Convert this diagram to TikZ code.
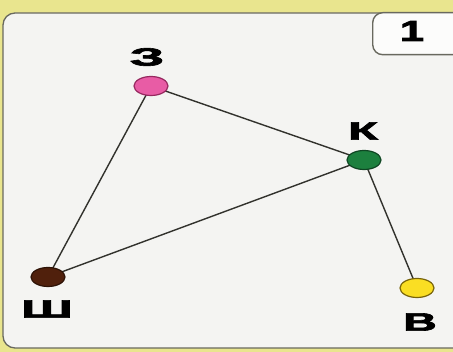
\documentclass[tikz,border=0pt]{standalone}
\usepackage{fontspec}
\setmainfont{Liberation Sans}
\newfontfamily\heavyfont{Liberation Sans}[BoldFeatures={FakeBold=2.4}]
\usetikzlibrary{shapes.geometric}
\definecolor{bgyellow}{RGB}{233,229,142}
\definecolor{cardfill}{RGB}{244,244,242}
\definecolor{cardline}{RGB}{105,105,95}
\definecolor{edgecol}{RGB}{50,50,45}
\definecolor{pinkf}{RGB}{232,92,165}
\definecolor{pinkd}{RGB}{150,40,95}
\definecolor{greenf}{RGB}{28,128,62}
\definecolor{greend}{RGB}{15,70,35}
\definecolor{brownf}{RGB}{80,32,12}
\definecolor{brownd}{RGB}{45,18,6}
\definecolor{yellowf}{RGB}{250,222,35}
\definecolor{yellowd}{RGB}{120,100,10}
\newcommand\wide[2]{\scalebox{#1}[1]{#2}}
\tikzset{
  vert/.style={ellipse, minimum width=34pt, minimum height=19pt, inner sep=0pt, line width=1.2pt},
  lbl/.style={font=\heavyfont\bfseries\fontsize{25}{25}\selectfont, inner sep=0pt, text=black},
  edge/.style={draw=edgecol, line width=1.4pt},
}
\begin{document}
\begin{tikzpicture}[x=1pt,y=-1pt]
\useasboundingbox (0,0) rectangle (453,352);
\fill[bgyellow] (0,0) rectangle (453,352);
\draw[cardline, fill=cardfill, line width=1.3pt, rounded corners=12pt] (3,13) rectangle (480,348);
\node[draw=cardline, fill=white!70!cardfill, line width=1.4pt, rounded corners=10pt, minimum width=110pt, minimum height=42pt, anchor=north west, inner sep=0pt] (box) at (372,12) {};
\node[lbl, font=\heavyfont\bfseries\fontsize{29}{29}\selectfont] (one) at (412,31) {\wide{1.5}{1}};

\node[lbl] (lz) at (147,57) {\wide{2.2}{З}};
\node[lbl] (lk) at (363,131) {\wide{1.95}{К}};
\node[lbl] (lsh) at (47,309) {\wide{2.05}{Ш}};
\node[lbl] (lv) at (420,322) {\wide{1.85}{В}};

\coordinate (z) at (151,86);
\coordinate (k) at (364,160);
\coordinate (sh) at (48,277);
\coordinate (v) at (417,288);

\draw[edge] (z) -- (sh);
\draw[edge] (z) -- (k);
\draw[edge] (k) -- (sh);
\draw[edge] (k) -- (v);

\node[vert, draw=pinkd, fill=pinkf] (nz) at (z) {};
\node[vert, draw=greend, fill=greenf] (nk) at (k) {};
\node[vert, draw=brownd, fill=brownf] (nsh) at (sh) {};
\node[vert, draw=yellowd, fill=yellowf] (nv) at (v) {};
\end{tikzpicture}
\end{document}
